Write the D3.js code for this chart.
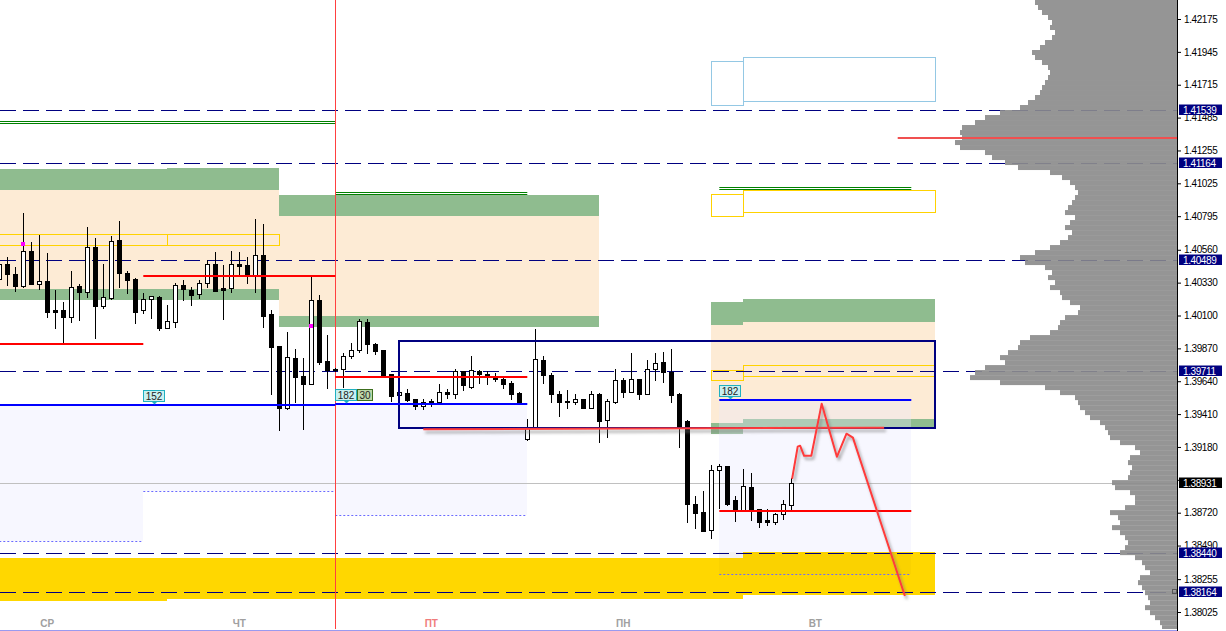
<!DOCTYPE html>
<html>
<head>
<meta charset="utf-8">
<script src="https://cdn.jsdelivr.net/npm/d3@7"></script>
<style>
  body { margin: 0; background: #fff; }
  svg { display: block; font-family: "Liberation Sans", Arial, sans-serif; }
</style>
</head>
<body>
<div id="chart"></div>
<script>
// H1 candles, index 0 = first visible bar
const opens = [1.40352,1.40457,1.40387,1.40303,1.40548,1.40317,1.40338,1.40135,1.40135,1.40093,
  1.40303,1.40261,1.40577,1.40163,1.40219,1.40626,1.40394,1.40352,1.40135,1.40212,
  1.40226,1.40016,1.40058,1.40310,1.40275,1.40247,1.40324,1.40457,1.40289,1.40289,
  1.40457,1.40450,1.40380,1.40520,1.40107,1.39890,1.39455,1.39805,1.39679,1.39623,
  1.40205,1.39784,1.39728,1.39728,1.39819,1.39862,1.40058,1.39904,1.39862,1.39693,
  1.39546,1.39560,1.39518,1.39469,1.39504,1.39497,1.39567,1.39553,1.39714,1.39602,
  1.39714,1.39693,1.39679,1.39658,1.39630,1.39560,1.39238,1.39315,1.39791,1.39686,
  1.39553,1.39504,1.39497,1.39518,1.39455,1.39553,1.39371,1.39497,1.39651,1.39567,
  1.39658,1.39553,1.39728,1.39777,1.39707,1.39553,1.39364,1.38782,1.38726,1.38600,
  1.39020,1.39048,1.38810,1.38740,1.38901,1.38747,1.38670,1.38656,1.38712,1.38775];
const highs = [1.40499,1.40506,1.40436,1.40815,1.40612,1.40661,1.40534,1.40275,1.40191,1.40408,
  1.40317,1.40717,1.40640,1.40457,1.40654,1.40759,1.40408,1.40359,1.40254,1.40233,
  1.40233,1.40170,1.40324,1.40345,1.40296,1.40345,1.40485,1.40541,1.40450,1.40548,
  1.40541,1.40506,1.40773,1.40738,1.40135,1.39890,1.39988,1.39869,1.39805,1.40366,
  1.40240,1.39967,1.39735,1.39840,1.39911,1.40079,1.40079,1.39911,1.39862,1.39693,
  1.39567,1.39588,1.39518,1.39518,1.39518,1.39623,1.39588,1.39728,1.39714,1.39819,
  1.39721,1.39714,1.39700,1.39672,1.39644,1.39567,1.39378,1.40009,1.39819,1.39700,
  1.39574,1.39581,1.39553,1.39518,1.39574,1.39560,1.39518,1.39728,1.39665,1.39840,
  1.39658,1.39791,1.39840,1.39847,1.39869,1.39560,1.39371,1.38838,1.38873,1.39055,
  1.39062,1.39048,1.38838,1.39027,1.38999,1.38747,1.38747,1.38719,1.38810,1.38964];
const lows = [1.40324,1.40310,1.40268,1.40296,1.40317,1.40282,1.40093,1.40016,1.39911,1.40058,
  1.40072,1.40226,1.39946,1.40149,1.40212,1.40296,1.40254,1.40051,1.40114,1.40086,
  1.40002,1.40016,1.40023,1.40205,1.40170,1.40219,1.40296,1.40268,1.40079,1.40261,
  1.40380,1.40324,1.40261,1.40023,1.39553,1.39301,1.39448,1.39497,1.39308,1.39623,
  1.39763,1.39595,1.39714,1.39602,1.39805,1.39847,1.39840,1.39833,1.39672,1.39504,
  1.39539,1.39504,1.39448,1.39448,1.39469,1.39490,1.39525,1.39525,1.39581,1.39595,
  1.39630,1.39623,1.39644,1.39595,1.39518,1.39490,1.39231,1.39315,1.39630,1.39497,
  1.39399,1.39455,1.39483,1.39455,1.39455,1.39217,1.39252,1.39490,1.39532,1.39567,
  1.39518,1.39553,1.39651,1.39637,1.39497,1.39182,1.38656,1.38614,1.38593,1.38544,
  1.38754,1.38775,1.38663,1.38740,1.38670,1.38621,1.38635,1.38642,1.38677,1.38747];
const closes = [1.40457,1.40387,1.40303,1.40548,1.40317,1.40338,1.40121,1.40121,1.40093,1.40296,
  1.40261,1.40577,1.40163,1.40226,1.40619,1.40394,1.40345,1.40121,1.40212,1.40233,
  1.40016,1.40065,1.40310,1.40282,1.40240,1.40324,1.40457,1.40268,1.40275,1.40457,
  1.40443,1.40380,1.40520,1.40100,1.39883,1.39455,1.39812,1.39672,1.39623,1.40205,
  1.39777,1.39721,1.39721,1.39819,1.39862,1.40065,1.39904,1.39854,1.39672,1.39539,
  1.39567,1.39511,1.39469,1.39497,1.39490,1.39567,1.39553,1.39714,1.39616,1.39721,
  1.39693,1.39672,1.39658,1.39623,1.39553,1.39497,1.39322,1.39798,1.39686,1.39553,
  1.39497,1.39497,1.39518,1.39455,1.39553,1.39364,1.39504,1.39651,1.39567,1.39658,
  1.39553,1.39728,1.39770,1.39707,1.39546,1.39322,1.38782,1.38719,1.38593,1.39020,
  1.39048,1.38782,1.38740,1.38908,1.38740,1.38656,1.38656,1.38712,1.38782,1.38931];

const dayLabels = ['СР', 'ЧТ', 'ПТ', 'ПН', 'ВТ'];
const dayBars = [6, 30, 54, 78, 102];
const priceTicks = [1.42175,1.41945,1.41715,1.41485,1.41255,1.41025,1.40795,1.40560,1.40330,
  1.40100,1.39870,1.39640,1.39410,1.39180,1.38950,1.38720,1.38490,1.38255,1.38025];
const hiddenTicks = [1.38950]; // covered by the current price tag
const levelLines = [1.41539, 1.41164, 1.40489, 1.39711, 1.38440, 1.38164];
const currentPrice = 1.38931;

// zones: [fromBar, toBar, top, bottom]
const peachZones = [[0,21,1.40976,1.40282],[21,35,1.40976,1.40282],[35,75,1.40794,1.40100],
  [89,93,1.40037,1.39350],[93,117,1.40058,1.39378]];
const greenZones = [[0,21,1.41123,1.40976],[21,35,1.41130,1.40976],[0,21,1.40282,1.40205],
  [21,35,1.40282,1.40205],[35,75,1.40941,1.40794],[35,75,1.40100,1.40023],
  [89,93,1.40191,1.40037],[93,117,1.40212,1.40058],[89,93,1.39350,1.39273],[93,117,1.39378,1.39308]];
const goldZones = [[0,21,1.38403,1.38102],[21,93,1.38403,1.38116],[93,117,1.38445,1.38144]];
const yellowBoxes = [[0,21,1.40668,1.40591],[21,35,1.40668,1.40591],[89,93,1.40948,1.40794],
  [93,117,1.40976,1.40822],[89,93,1.39721,1.39651],[93,117,1.39756,1.39679]];
const skyBoxes = [[89,93,1.41880,1.41572],[93,117,1.41908,1.41600]];
const lavenderZones = [[0,18,1.39476,1.38523],[18,42,1.39476,1.38873],[42,66,1.39483,1.38705],[90,114,1.39511,1.38291]];
const blueLines = [[0,42,1.39476],[42,66,1.39483],[90,114,1.39511]];
const redLines = [[0,18,1.39904],[18,42,1.40375],[42,66,1.39667],[90,114,1.38733],[112.3,148,1.41341]];
const greenPairs = [[0,42,1.41458,1.41444],[42,66,1.40962,1.40948],[90,114,1.40997,1.40983]];
const boxRect = [50, 117, 1.39925, 1.39315];
const trendLine = [[53, 1.39304], [110.6, 1.39315]];
const forecastBars = [99.1, 99.8, 100.1, 100.6, 101.5, 102.8, 104.7, 105.9, 106.7, 113.2];
const forecastPrices = [1.38957, 1.39182, 1.39189, 1.39118, 1.39118, 1.39483, 1.39111, 1.39273, 1.39245, 1.38137];
const markers = [[3, 1.40598], [39, 1.40030]];
const tags = [
  { bar: 18, price: 1.39476, text: '152', kind: 'cyan' },
  { bar: 42, price: 1.39483, text: '182', kind: 'cyan' },
  { bar: 44.7, price: 1.39483, text: '30', kind: 'green' },
  { bar: 90, price: 1.39511, text: '182', kind: 'cyan' },
];

// volume profile, bins of equal price height from the top of the chart
const profileTop = 1.42308;
const profileStep = 0.00035;
const profileVolumes = [142,139,135,129,125,127,122,125,132,137,145,142,135,129,127,129,132,135,137,142,
  149,157,177,192,202,215,217,215,222,217,192,185,172,159,127,115,107,102,99,102,
  105,109,112,102,107,112,105,109,117,127,142,157,152,132,125,129,122,127,117,115,
  107,97,99,112,117,119,127,147,157,159,169,177,172,192,202,207,177,132,117,102,
  99,97,92,87,77,72,69,67,57,42,37,47,49,45,47,49,65,62,47,42,
  42,52,67,59,57,65,57,52,49,52,57,42,35,32,27,37,39,35,32,29,
  27,32,27,22,17,15];

const W = 1226, H = 631;
const plotRight = 1177;

const svg = d3.select('#chart').append('svg').attr('width', W).attr('height', H);

const defs = svg.append('defs');
defs.append('filter')
  .attr('id', 'shadow')
  .attr('filterUnits', 'userSpaceOnUse')
  .attr('x', 0).attr('y', 0).attr('width', W).attr('height', H)
  .append('feDropShadow')
  .attr('dx', 2).attr('dy', 3).attr('stdDeviation', 1.5)
  .attr('flood-color', '#777').attr('flood-opacity', 0.7);
defs.append('clipPath').attr('id', 'plot')
  .append('rect').attr('x', 0).attr('y', 0).attr('width', plotRight).attr('height', 629);

const x = d3.scaleLinear().domain([0, 147]).range([-0.7, -0.7 + 8 * 147]);
const y = d3.scaleLinear().domain([1.42175, 1.38025]).range([19, 612]);

const g = svg.append('g').attr('clip-path', 'url(#plot)');

function zoneRects(data, fill, opacity) {
  g.append('g')
    .selectAll('rect').data(data).join('rect')
    .attr('x', d => Math.round(x(d[0])))
    .attr('y', d => Math.round(y(d[2])))
    .attr('width', d => Math.round(x(d[1])) - Math.round(x(d[0])))
    .attr('height', d => Math.round(y(d[3])) - Math.round(y(d[2])))
    .attr('fill', fill)
    .attr('fill-opacity', opacity || 1);
}

zoneRects(peachZones, '#fdebd5');
zoneRects(greenZones, '#8fbc8f');
// lavender areas under the blue lines
zoneRects(lavenderZones, '#e8e8ff', 0.35);
zoneRects(goldZones, '#ffd700');
// where the last lavender area lies over the gold band it shades it a little
g.append('rect')
  .attr('x', Math.round(x(lavenderZones[3][0])))
  .attr('y', Math.round(y(goldZones[2][2])))
  .attr('width', Math.round(x(lavenderZones[3][1])) - Math.round(x(lavenderZones[3][0])))
  .attr('height', Math.round(y(lavenderZones[3][3])) - Math.round(y(goldZones[2][2])))
  .attr('fill', '#b08000').attr('fill-opacity', 0.06);

g.append('g').selectAll('line').data(lavenderZones).join('line')
  .attr('x1', d => x(d[0])).attr('x2', d => x(d[1]))
  .attr('y1', d => Math.round(y(d[3])) + 0.5).attr('y2', d => Math.round(y(d[3])) + 0.5)
  .attr('stroke', '#6a6aff').attr('stroke-dasharray', '2,2');

// outline boxes
g.append('g').selectAll('rect').data(yellowBoxes).join('rect')
  .attr('x', d => Math.round(x(d[0])) + 0.5)
  .attr('y', d => Math.round(y(d[2])) + 0.5)
  .attr('width', d => Math.round(x(d[1])) - Math.round(x(d[0])))
  .attr('height', d => Math.round(y(d[3])) - Math.round(y(d[2])))
  .attr('fill', 'none').attr('stroke', '#ffd200');
g.append('g').selectAll('rect').data(skyBoxes).join('rect')
  .attr('x', d => Math.round(x(d[0])) + 0.5)
  .attr('y', d => Math.round(y(d[2])) + 0.5)
  .attr('width', d => Math.round(x(d[1])) - Math.round(x(d[0])))
  .attr('height', d => Math.round(y(d[3])) - Math.round(y(d[2])))
  .attr('fill', 'none').attr('stroke', '#94c8e4');

// green double lines
greenPairs.forEach(d => {
  [d[2], d[3]].forEach(p => {
    g.append('line')
      .attr('x1', x(d[0])).attr('x2', x(d[1]))
      .attr('y1', Math.round(y(p)) + 0.5).attr('y2', Math.round(y(p)) + 0.5)
      .attr('stroke', '#008000');
  });
});

// current price line
g.append('line')
  .attr('x1', 0).attr('x2', plotRight)
  .attr('y1', Math.round(y(currentPrice)) + 0.5).attr('y2', Math.round(y(currentPrice)) + 0.5)
  .attr('stroke', '#c0c0c0');

// dashed levels
g.append('g').selectAll('line').data(levelLines).join('line')
  .attr('x1', 0).attr('x2', plotRight)
  .attr('y1', d => Math.round(y(d)) + 0.5).attr('y2', d => Math.round(y(d)) + 0.5)
  .attr('stroke', '#000080').attr('stroke-dasharray', '16,7');

// volume profile
const vx = d3.scaleLinear().domain([0, 222]).range([0, 222]);
g.append('g').attr('class', 'profile')
  .selectAll('rect').data(profileVolumes).join('rect')
  .attr('x', d => plotRight - vx(d))
  .attr('y', (d, i) => y(profileTop - i * profileStep))
  .attr('width', d => vx(d))
  .attr('height', (d, i) => y(profileTop - (i + 1) * profileStep) - y(profileTop - i * profileStep))
  .attr('fill', '#8c8c8c').attr('fill-opacity', 0.92);

// day separator
g.append('line')
  .attr('x1', Math.round(x(42)) + 0.5).attr('x2', Math.round(x(42)) + 0.5)
  .attr('y1', 0).attr('y2', H)
  .attr('stroke', '#ff4040');

// candles
const bars = d3.range(opens.length).map(i => ({ i, o: opens[i], h: highs[i], l: lows[i], c: closes[i] }));
const cg = g.append('g').attr('class', 'candles');
cg.selectAll('line').data(bars).join('line')
  .attr('x1', d => Math.round(x(d.i)) + 0.5).attr('x2', d => Math.round(x(d.i)) + 0.5)
  .attr('y1', d => Math.round(y(d.h))).attr('y2', d => Math.round(y(d.l)) + 1)
  .attr('stroke', '#000');
cg.selectAll('rect').data(bars).join('rect')
  .attr('x', d => Math.round(x(d.i)) - 2 + 0.5)
  .attr('y', d => Math.round(y(Math.max(d.o, d.c))) + 0.5)
  .attr('width', 4)
  .attr('height', d => Math.max(0.01, Math.round(y(Math.min(d.o, d.c))) - Math.round(y(Math.max(d.o, d.c)))))
  .attr('fill', d => d.c >= d.o ? '#fff' : '#000')
  .attr('stroke', '#000');

// navy box
g.append('rect')
  .attr('x', Math.round(x(boxRect[0])))
  .attr('y', Math.round(y(boxRect[2])))
  .attr('width', Math.round(x(boxRect[1])) - Math.round(x(boxRect[0])))
  .attr('height', Math.round(y(boxRect[3])) - Math.round(y(boxRect[2])))
  .attr('fill', 'none').attr('stroke', '#000080').attr('stroke-width', 2);

// blue and red horizontal segments
g.append('g').selectAll('line').data(blueLines).join('line')
  .attr('x1', d => x(d[0])).attr('x2', d => x(d[1]))
  .attr('y1', d => Math.round(y(d[2]))).attr('y2', d => Math.round(y(d[2])))
  .attr('stroke', '#0000ff').attr('stroke-width', 2);
g.append('g').selectAll('line').data(redLines).join('line')
  .attr('x1', d => x(d[0])).attr('x2', d => x(d[1]))
  .attr('y1', d => Math.round(y(d[2]))).attr('y2', d => Math.round(y(d[2])))
  .attr('stroke', (d, i) => i === 4 ? '#f05050' : '#ff0000').attr('stroke-width', 2);

// hand drawn lines
const lineGen = d3.line().x(d => x(d[0])).y(d => y(d[1]));
g.append('path')
  .attr('d', lineGen(trendLine))
  .attr('fill', 'none').attr('stroke', '#ff3a3a').attr('stroke-width', 2)
  .attr('filter', 'url(#shadow)');
g.append('path')
  .attr('d', lineGen(forecastBars.map((b, i) => [b, forecastPrices[i]])))
  .attr('fill', 'none').attr('stroke', '#ff3a3a').attr('stroke-width', 2)
  .attr('stroke-linejoin', 'round')
  .attr('filter', 'url(#shadow)');

// magenta markers
g.append('g').selectAll('rect').data(markers).join('rect')
  .attr('x', d => Math.round(x(d[0])) - 2)
  .attr('y', d => Math.round(y(d[1])) - 2)
  .attr('width', 4).attr('height', 4)
  .attr('fill', '#ff00ff');

// small tags above the blue lines
tags.forEach(t => {
  const tx = Math.round(x(t.bar));
  const ty = Math.round(y(t.price));
  const w = t.text.length * 6 + 3;
  const tg = g.append('g');
  tg.append('rect')
    .attr('x', tx + 0.5).attr('y', ty - 14.5)
    .attr('width', w).attr('height', 11)
    .attr('fill', t.kind === 'cyan' ? '#c9f0f0' : '#bcd8a8')
    .attr('stroke', t.kind === 'cyan' ? '#20b0c0' : '#3c6e1e');
  if (t.kind === 'cyan') {
    tg.append('path')
      .attr('d', `M${tx + w / 2 - 2},${ty - 3.5}L${tx + w / 2 + 1},${ty - 0.5}L${tx + w / 2 + 4},${ty - 3.5}Z`)
      .attr('fill', '#20b0c0');
  }
  tg.append('text')
    .attr('x', tx + w / 2 + 0.5).attr('y', ty - 5)
    .attr('text-anchor', 'middle')
    .attr('font-size', 10).attr('fill', '#222')
    .text(t.text);
});

// right price axis
const axisG = svg.append('g').attr('transform', `translate(${plotRight},0)`);
axisG.append('rect').attr('x', 0.5).attr('y', 0).attr('width', W - plotRight).attr('height', H).attr('fill', '#fff');
axisG.append('line').attr('x1', 0.5).attr('x2', 0.5).attr('y1', 0).attr('y2', H).attr('stroke', '#000');
axisG.call(d3.axisRight(y).tickValues(priceTicks).tickSize(4).tickPadding(3)
    .tickFormat(d => hiddenTicks.includes(d) ? '' : d3.format('.5f')(d)))
  .call(a => a.select('.domain').remove())
  .call(a => a.selectAll('.tick text').attr('font-size', 10).attr('letter-spacing', '-0.4px')
    .attr('font-family', '"Liberation Sans", Arial, sans-serif').attr('fill', '#000'));

const tagLevels = levelLines.concat([currentPrice]);
const tg2 = axisG.selectAll('g.level').data(tagLevels).join('g').attr('class', 'level')
  .attr('transform', d => `translate(0,${Math.round(y(d))})`);
tg2.append('rect').attr('x', 2).attr('y', -5.5).attr('width', 43).attr('height', 10.5)
  .attr('fill', d => d === currentPrice ? '#000' : '#000080');
tg2.append('text').attr('x', 6).attr('y', 3.5)
  .attr('font-size', 10).attr('letter-spacing', '-0.4px').attr('fill', '#fff')
  .text(d => d3.format('.5f')(d));

// small square at the end of the lowest level
svg.append('rect')
  .attr('x', plotRight - 4.5).attr('y', Math.round(y(1.38164)) - 2.5)
  .attr('width', 4).attr('height', 4)
  .attr('fill', 'none').attr('stroke', '#555');

// bottom day labels
svg.append('g').selectAll('text').data(dayLabels).join('text')
  .attr('x', (d, i) => x(dayBars[i]))
  .attr('y', 627)
  .attr('text-anchor', 'middle')
  .attr('font-size', 10).attr('font-weight', 'bold')
  .attr('fill', d => d === 'ПТ' ? '#f07c7c' : '#a0a0a0')
  .text(d => d);

svg.append('line')
  .attr('x1', 0).attr('x2', plotRight)
  .attr('y1', 630.5).attr('y2', 630.5)
  .attr('stroke', '#9a9af0');
</script>
</body>
</html>
